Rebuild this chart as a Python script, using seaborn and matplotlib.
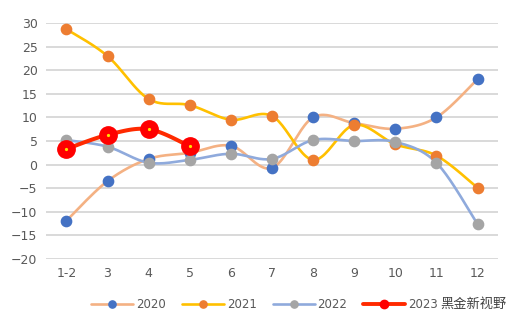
import numpy as np
import pandas as pd
import matplotlib
matplotlib.use("Agg")
import matplotlib.pyplot as plt
from matplotlib.lines import Line2D
import seaborn as sns

categories = ["1-2", "3", "4", "5", "6", "7", "8", "9", "10", "11", "12"]
y2020 = [-11.9, -3.5, 1.2, 2.5, 4.0, -0.7, 10.0, 8.8, 7.6, 10.0, 18.1]
y2021 = [28.7, 23.0, 13.9, 12.6, 9.5, 10.3, 1.0, 8.4, 4.3, 1.9, -4.9]
y2022 = [5.2, 3.8, 0.4, 1.0, 2.3, 1.2, 5.2, 5.0, 4.8, 0.4, -12.6]
y2023 = [3.3, 6.3, 7.5, 3.9]
series_labels = ["2020", "2021", "2022", "2023"]
yticks = list(range(-20, 31, 5))


def smooth(xs, ys, n=24):
    p = np.column_stack([xs, ys]).astype(float)
    p = np.vstack([p[0], p, p[-1]])
    out = []
    for i in range(1, len(p) - 2):
        p0, p1, p2, p3 = p[i - 1], p[i], p[i + 1], p[i + 2]
        t = np.linspace(0, 1, n, endpoint=(i == len(p) - 3))[:, None]
        c = 0.5 * ((2 * p1) + (-p0 + p2) * t + (2 * p0 - 5 * p1 + 4 * p2 - p3) * t ** 2
                   + (-p0 + 3 * p1 - 3 * p2 + p3) * t ** 3)
        out.append(c)
    c = np.vstack(out)
    return c[:, 0], c[:, 1]


sns.set_theme(style="white")
plt.rcParams["font.family"] = ["DejaVu Sans", "Noto Sans CJK SC"]

fig = plt.figure(figsize=(5.21, 3.31), dpi=100)
ax = fig.add_axes([0.088, 0.2175, 0.868, 0.713])

styles = [
    (y2020, "#F4B183", "#4472C4", 1.9, 7.4),
    (y2021, "#FFC000", "#ED7D31", 1.9, 7.4),
    (y2022, "#8FAADC", "#A5A5A5", 1.9, 7.4),
    (y2023, "#FF2A00", "#FF0000", 2.9, 12.5),
]
for vals, lc, mc, lw, ms in styles:
    xs = np.arange(len(vals))
    sx, sy = smooth(xs, vals)
    sns.lineplot(x=sx, y=sy, sort=False, estimator=None, color=lc, lw=lw, ax=ax, zorder=2)
for vals, lc, mc, lw, ms in styles:
    xs = np.arange(len(vals))
    ax.plot(xs, vals, ls="none", marker="o", ms=ms, mfc=mc, mec=mc, zorder=3)
    if ms > 10:
        ax.plot(xs, vals, ls="none", marker="o", ms=1.3, mfc="#FFE000", mec="#FFE000", zorder=4)

ax.set_xlim(-0.5, 10.5)
ax.set_ylim(-20, 30)
ax.set_yticks(yticks)
ax.set_xticks(range(len(categories)))
ax.set_xticklabels(categories)
ax.grid(axis="y", color="#D9D9D9", lw=1.4)
ax.set_axisbelow(True)
for s in ax.spines.values():
    s.set_visible(False)
ax.tick_params(axis="both", length=0, labelsize=9, colors="#595959", pad=6)
ax.set_xlabel("")
ax.set_ylabel("")

handles = []
for vals, lc, mc, lw, ms in styles:
    big = ms > 10
    handles.append(Line2D([], [], color=lc, lw=2.8 if big else 1.9, marker="o",
                          ms=6 if big else 5.2, mfc=mc, mec=mc))
fig.legend(handles, series_labels, ncol=4, frameon=False, loc="center",
           bbox_to_anchor=(0.508, 0.079), handlelength=3.55, fontsize=8.5,
           labelcolor="#595959", columnspacing=1.35, handletextpad=0.25)
fig.text(0.845, 0.079, "黑金新视野", family=["Noto Sans CJK SC", "DejaVu Sans"],
         fontsize=9.5, color="#404040", va="center", ha="left")

fig.savefig("out.png", dpi=100)
